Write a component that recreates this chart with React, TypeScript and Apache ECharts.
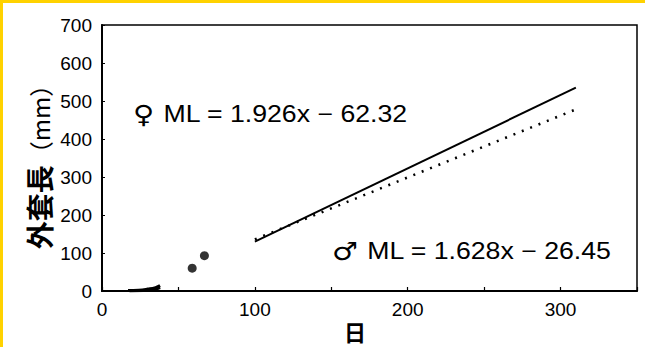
import React, { useEffect, useRef } from "react";
import * as echarts from "echarts";

// Data
const femaleLine: number[][] = [[100, 130], [310, 535]];
const maleLine: number[][] = [[100, 136], [310, 478]];
const earlyUpper: number[][] = [[17, 1], [24, 2], [30, 5], [35, 9], [38, 14]];
const earlyLower: number[][] = [[18, 0], [27, 1], [33, 3], [38, 9]];
const dots: number[][] = [[59, 60], [67, 93]];
const femaleSym = "♀";
const femaleEq = "ML = 1.926x − 62.32";
const maleSym = "♂";
const maleEq = "ML = 1.628x − 26.45";
const xName = "日";
const yNameMain = "外套長";
const yNameUnit = "（mm）";

export default function App() {
  const ref = useRef<HTMLDivElement>(null);
  useEffect(() => {
    document.body.style.margin = "0";
    const chart = echarts.init(ref.current!, null, { renderer: "svg", width: 645, height: 347 });
    const num = "'Liberation Sans', Arial, sans-serif";
    const cjk = "'Noto Sans CJK JP', sans-serif";
    const eqRich = {
      s: { font: `25px 'DejaVu Sans', sans-serif`, fill: "#000", padding: [0, 8, 0, 0] },
      t: { font: `23px ${num}`, fill: "#000" },
    };
    chart.setOption({
      animation: false,
      backgroundColor: "#fff",
      grid: {
        left: 102, top: 25, width: 535, height: 266,
        show: true, borderColor: "#000", borderWidth: 1.5, backgroundColor: "transparent",
      },
      xAxis: {
        type: "value", min: 0, max: 350, interval: 100,
        axisLine: { show: true, lineStyle: { color: "#000", width: 2 } },
        axisTick: { show: true, inside: true, length: 4, lineStyle: { color: "#000", width: 1.2 } },
        minorTick: { show: true, splitNumber: 2, length: 4, lineStyle: { color: "#000", width: 1.2 } },
        splitLine: { show: false },
        axisLabel: {
          color: "#000", fontSize: 19, fontFamily: num, margin: 9,
          formatter: (v: number) => (v % 100 === 0 ? String(v) : ""),
        },
      },
      yAxis: {
        type: "value", min: 0, max: 700, interval: 100,
        axisLine: { show: true, lineStyle: { color: "#000", width: 2 } },
        axisTick: { show: true, inside: true, length: 3, lineStyle: { color: "#000", width: 1 } },
        splitLine: { show: false },
        axisLabel: { color: "#000", fontSize: 19, fontFamily: num, margin: 10 },
      },
      series: [
        { type: "line", data: femaleLine, showSymbol: false, lineStyle: { color: "#000", width: 2 } },
        { type: "line", data: maleLine, showSymbol: false, lineStyle: { color: "#000", width: 2.5, type: [2, 7] } },
        { type: "line", data: earlyUpper, showSymbol: false, smooth: true, lineStyle: { color: "#000", width: 3 } },
        { type: "line", data: earlyLower, showSymbol: false, smooth: true, lineStyle: { color: "#000", width: 3 } },
        { type: "scatter", data: dots, symbolSize: 9, itemStyle: { color: "#000" } },
      ],
      graphic: [
        { type: "rect", shape: { x: 0, y: 0, width: 645, height: 3 }, style: { fill: "#FFD200" } },
        { type: "rect", shape: { x: 0, y: 0, width: 3, height: 347 }, style: { fill: "#FFD200" } },
        {
          type: "text", x: 133, y: 114, scaleX: 1.16,
          style: { text: `{s|${femaleSym}}{t|${femaleEq}}`, verticalAlign: "middle", rich: eqRich },
        },
        {
          type: "text", x: 332, y: 251, scaleX: 1.16,
          style: { text: `{s|${maleSym}}{t|${maleEq}}`, verticalAlign: "middle", rich: eqRich },
        },
        {
          type: "text", x: 355, y: 331,
          style: { text: xName, font: `bold 22px ${cjk}`, fill: "#000", align: "center", verticalAlign: "middle" },
        },
        {
          type: "text", x: 39, y: 161, rotation: Math.PI / 2,
          style: {
            text: `{a|${yNameMain}}{b|${yNameUnit}}`,
            align: "center", verticalAlign: "middle",
            rich: {
              a: { font: `bold 28px ${cjk}`, fill: "#000" },
              b: { font: `24px ${cjk}`, fill: "#000" },
            },
          },
        },
      ],
    });
    return () => chart.dispose();
  }, []);
  return <div ref={ref} style={{ width: 645, height: 347, position: "absolute", left: 0, top: 0 }} />;
}
